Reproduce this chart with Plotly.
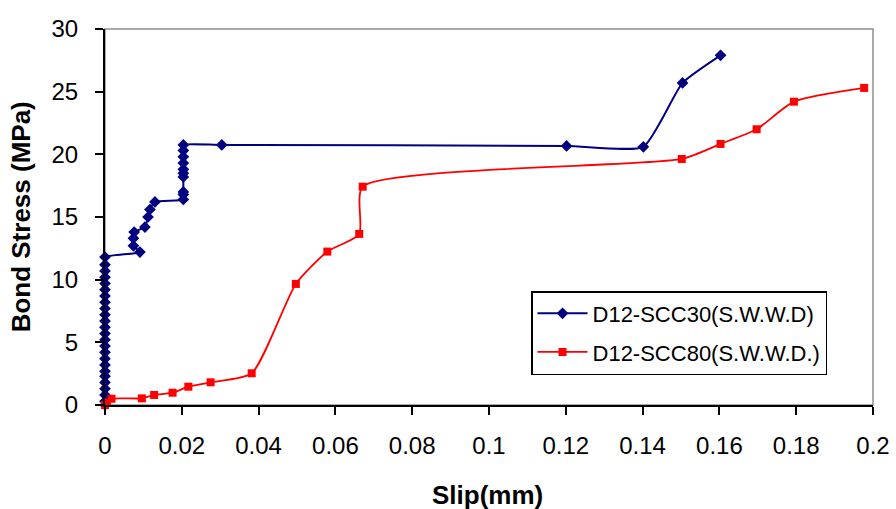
import plotly.graph_objects as go

# Series 1: D12-SCC30(S.W.W.D)
scc30_slip = [0, 0, 0, 0, 0, 0, 0, 0, 0, 0, 0, 0, 0, 0, 0, 0, 0, 0, 0, 0, 0, 0, 0, 0, 0,
              0.0091, 0.0074, 0.0074, 0.0076, 0.0104, 0.0112, 0.0117, 0.0130,
              0.0204, 0.0204, 0.0204, 0.0204, 0.0204, 0.0204, 0.0204, 0.0204, 0.0204, 0.0204,
              0.0304, 0.1202, 0.1402, 0.1504, 0.1603]
scc30_stress = [0.0, 0.3, 0.8, 1.3, 1.8, 2.3, 2.7, 3.2, 3.7, 4.2, 4.7, 5.2, 5.7, 6.2, 6.7,
                7.2, 7.7, 8.2, 8.7, 9.2, 9.7, 10.2, 10.7, 11.2, 11.8,
                12.2, 12.7, 13.3, 13.8, 14.2, 15.0, 15.6, 16.2,
                16.4, 16.8, 17.0, 18.2, 18.5, 18.8, 19.3, 19.8, 20.3, 20.75,
                20.75, 20.67, 20.6, 25.7, 27.9]

# Series 2: D12-SCC80(S.W.W.D.)
scc80_slip = [0, 0.0005, 0.0017, 0.0096, 0.0128, 0.0176, 0.0217, 0.0275, 0.0382,
              0.0497, 0.0579, 0.0662, 0.0671, 0.1502, 0.1603, 0.1697, 0.1794, 0.1977]
scc80_stress = [0.0, 0.2, 0.5, 0.53, 0.8, 0.98, 1.46, 1.81, 2.53,
                9.66, 12.24, 13.65, 17.42, 19.63, 20.83, 22.0, 24.2, 25.3]

x_ticks = [0, 0.02, 0.04, 0.06, 0.08, 0.1, 0.12, 0.14, 0.16, 0.18, 0.2]
x_tick_labels = ["0", "0.02", "0.04", "0.06", "0.08", "0.1", "0.12", "0.14", "0.16", "0.18", "0.2"]
y_ticks = [0, 5, 10, 15, 20, 25, 30]

x_title = "Slip(mm)"
y_title = "Bond Stress (MPa)"

fig = go.Figure()
fig.add_trace(go.Scatter(
    x=scc30_slip, y=scc30_stress, mode="lines+markers",
    name="D12-SCC30(S.W.W.D)", legendgroup="a", cliponaxis=False,
    line=dict(color="#000080", width=2, shape="spline", smoothing=0.5),
    marker=dict(symbol="diamond", size=9, color="#000080"),
))
fig.add_trace(go.Scatter(
    x=scc80_slip, y=scc80_stress, mode="lines+markers",
    name="D12-SCC80(S.W.W.D.)", legendgroup="b", cliponaxis=False,
    line=dict(color="#FF0000", width=1.8, shape="spline", smoothing=0.6),
    marker=dict(symbol="square", size=8, color="#FF0000"),
))

font_family = "Liberation Sans, Arial, sans-serif"
fig.update_layout(
    width=896, height=509,
    margin=dict(l=105, r=23, t=29, b=104, autoexpand=False),
    paper_bgcolor="white", plot_bgcolor="white",
    font=dict(family=font_family, size=24, color="black"),
    showlegend=True,
    legend=dict(
        x=0.5547, y=0.303, xanchor="left", yanchor="top",
        bordercolor="black", borderwidth=1.5, bgcolor="white",
        font=dict(family=font_family, size=22, color="black"),
        itemwidth=50, tracegroupgap=7,
    ),
    shapes=[dict(type="rect", xref="paper", yref="paper", x0=0, y0=0, x1=1, y1=1,
                 line=dict(color="#909090", width=1.5), layer="below")],
    annotations=[
        dict(text="<b>" + x_title + "</b>", xref="paper", yref="paper",
             x=0.4985, y=-0.24, xanchor="center", yanchor="middle", showarrow=False,
             font=dict(family=font_family, size=26, color="black")),
        dict(text="<b>" + y_title + "</b>", xref="paper", yref="paper",
             x=-0.1089, y=0.5, xanchor="center", yanchor="middle", showarrow=False,
             textangle=-90,
             font=dict(family=font_family, size=26, color="black")),
    ],
)
fig.update_xaxes(
    range=[0, 0.2], tickvals=x_ticks, ticktext=x_tick_labels, automargin=False,
    showgrid=False, zeroline=False, showline=True, linecolor="black", linewidth=2,
    ticks="outside", ticklen=8, tickwidth=2, tickcolor="black",
    tickfont=dict(size=24), ticklabelstandoff=10,
)
fig.update_yaxes(
    range=[0, 30], tickvals=y_ticks, automargin=False,
    showgrid=False, zeroline=False, showline=True, linecolor="black", linewidth=2,
    ticks="outside", ticklen=8, tickwidth=2, tickcolor="black",
    tickfont=dict(size=24), ticklabelstandoff=12,
)

fig.write_html("out.html", config={"displayModeBar": False},
               post_script="document.body.style.margin='0';document.body.style.padding='0';")
